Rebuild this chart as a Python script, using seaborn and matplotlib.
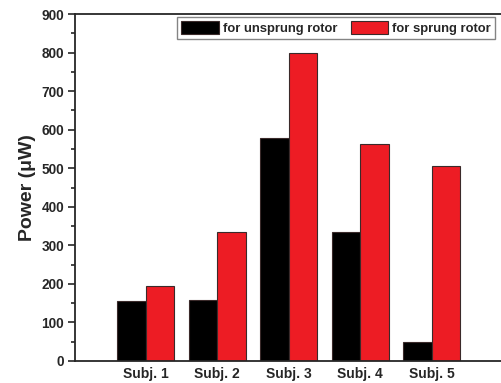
import pandas as pd
import seaborn as sns
import matplotlib.pyplot as plt
from matplotlib.ticker import MultipleLocator

# ---- data ----
subjects = ['Subj. 1', 'Subj. 2', 'Subj. 3', 'Subj. 4', 'Subj. 5']
unsprung = [155, 158, 578, 335, 50]
sprung = [195, 335, 800, 562, 505]
series = ['for unsprung rotor', 'for sprung rotor']

df = pd.DataFrame({
    'subject': subjects * 2,
    'power': unsprung + sprung,
    'rotor': [series[0]] * 5 + [series[1]] * 5,
})

sns.set_style('ticks')
plt.rcParams['font.family'] = ['Liberation Sans', 'DejaVu Sans']
plt.rcParams['font.weight'] = 'bold'

fig = plt.figure(figsize=(5.01, 3.83), dpi=100)
ax = fig.add_axes([75 / 501, 22 / 383, 1 - 75 / 501, 347 / 383])

sns.barplot(data=df, x='subject', y='power', hue='rotor',
            palette=['#000000', '#ED1C24'], width=0.8,
            edgecolor='#3a2a2a', linewidth=0.8, saturation=1, ax=ax)

ax.set_xlim(-0.99, 4.97)
ax.set_ylim(0, 900)
ax.yaxis.set_major_locator(MultipleLocator(100))
ax.yaxis.set_minor_locator(MultipleLocator(50))
ax.tick_params(axis='y', which='major', length=5, width=1.2, labelsize=9.8, pad=3)
ax.tick_params(axis='y', which='minor', length=3, width=1.2)
ax.tick_params(axis='x', length=0, labelsize=10, pad=4)
for lab in ax.get_xticklabels() + ax.get_yticklabels():
    lab.set_fontweight('bold')

ax.set_xlabel('')
ax.set_ylabel('Power (\u03bcW)', fontsize=14, fontweight='bold', labelpad=4)

for side in ['left', 'bottom', 'top']:
    ax.spines[side].set_linewidth(1.3)
ax.spines['right'].set_visible(False)

ax.legend(loc='upper right', ncol=2, frameon=True, fancybox=False,
          edgecolor='#666666', handlelength=2.9, handleheight=1.2,
          handletextpad=0.3, columnspacing=1.0, borderpad=0.3,
          borderaxespad=0, bbox_to_anchor=(0.986, 0.991),
          prop={'weight': 'bold', 'size': 9.4})

fig.savefig('out.png', dpi=100)
